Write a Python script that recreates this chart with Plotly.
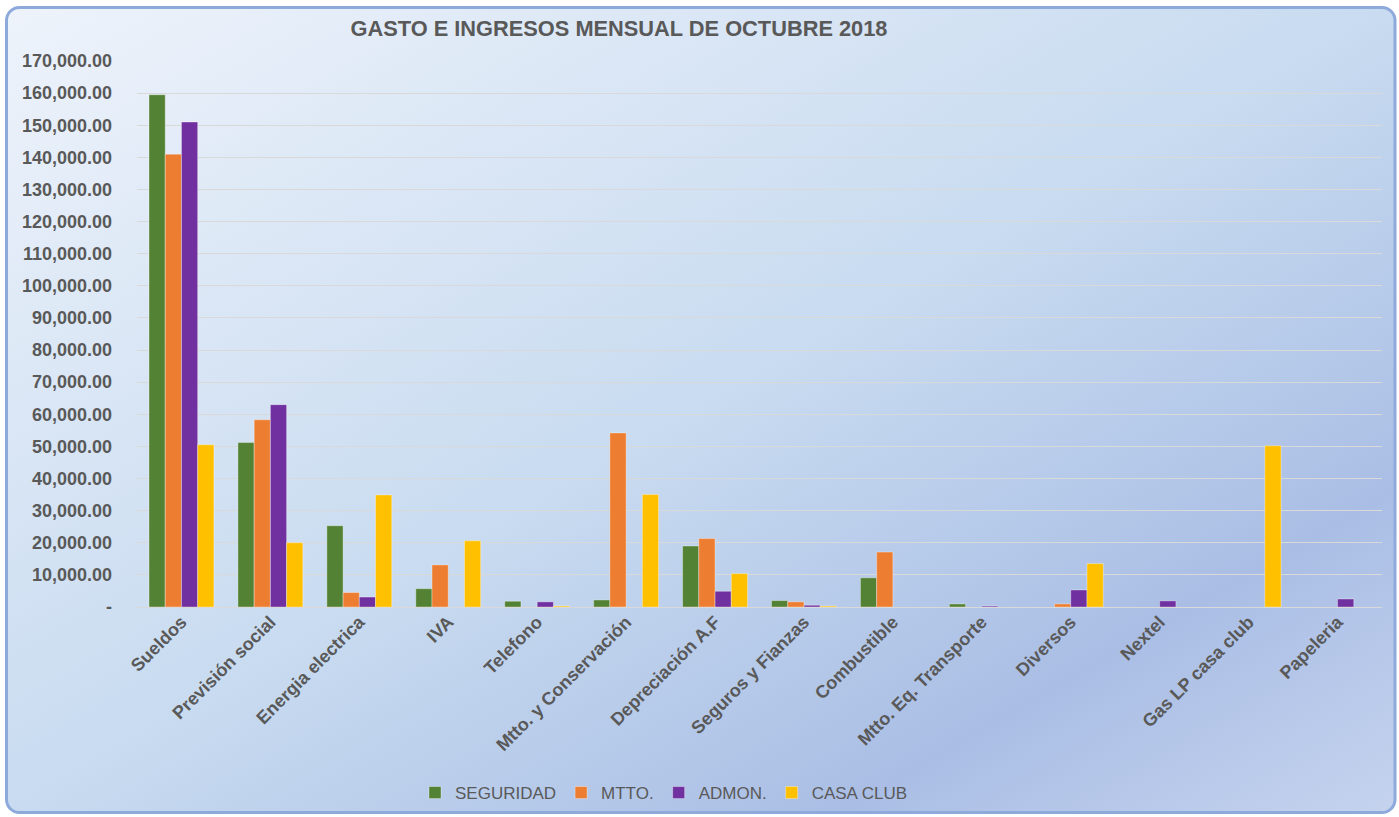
import base64
import plotly.graph_objects as go

categories = ["Sueldos", "Previsión social", "Energia electrica", "IVA", "Telefono",
              "Mtto. y Conservación", "Depreciación A.F", "Seguros y Fianzas", "Combustible",
              "Mtto. Eq. Transporte", "Diversos", "Nextel", "Gas LP casa club", "Papeleria"]

seguridad = [159500, 51200, 25300, 5700, 1800, 2200, 19000, 2000, 9100, 950, None, None, None, None]
mtto = [141000, 58300, 4500, 13100, None, 54200, 21300, 1600, 17100, None, 950, None, None, None]
admon = [151000, 63000, 3100, None, 1600, None, 4900, 550, None, 300, 5300, 1900, None, 2500]
casa_club = [50500, 20000, 34900, 20600, 300, 35000, 10400, 300, None, None, 13500, None, 50200, None]

series_names = ["SEGURIDAD", "MTTO.", "ADMON.", "CASA CLUB"]
series_colors = ["#548235", "#ED7D31", "#7030A0", "#FFC000"]

tick_vals = [0, 10000, 20000, 30000, 40000, 50000, 60000, 70000, 80000, 90000,
             100000, 110000, 120000, 130000, 140000, 150000, 160000, 170000]
tick_text = ["-"] + [f"{v:,.2f}" for v in tick_vals[1:]]

W, H = 1399, 817
ML, MR, MT, MB = 137, 17, 61, 210
PW, PH = W - ML - MR, H - MT - MB

svg = f'''<svg xmlns="http://www.w3.org/2000/svg" width="{W}" height="{H}" viewBox="0 0 {W} {H}" preserveAspectRatio="none">
<defs><linearGradient id="g" x1="0" y1="0" x2="1" y2="1">
<stop offset="0" stop-color="#eef3fb"/>
<stop offset="0.5" stop-color="#c8dbf0"/>
<stop offset="0.8" stop-color="#aabee5"/>
<stop offset="1" stop-color="#c5d3ee"/>
</linearGradient></defs>
<rect x="6.5" y="7.5" width="1388.5" height="805" rx="13" ry="13" fill="url(#g)" stroke="#8eaadb" stroke-width="3"/>
</svg>'''
src = "data:image/svg+xml;base64," + base64.b64encode(svg.encode()).decode()

fig = go.Figure()
for name, vals, col in zip(series_names, [seguridad, mtto, admon, casa_club], series_colors):
    fig.add_trace(go.Bar(x=categories, y=vals, name=name, marker_color=col,
                         marker_line=dict(color="rgba(255,255,255,0.35)", width=1)))

fig.update_layout(
    width=W, height=H,
    margin=dict(l=ML, r=MR, t=MT, b=MB),
    paper_bgcolor="white",
    plot_bgcolor="rgba(0,0,0,0)",
    barmode="group", bargap=0.27, bargroupgap=0,
    font=dict(family="Liberation Sans, Arial, sans-serif", color="#595959"),
    title=dict(text="<b>GASTO E INGRESOS MENSUAL DE OCTUBRE 2018</b>",
               x=619 / W, xanchor="center", y=1 - 28 / H, yanchor="middle",
               font=dict(size=21.8, color="#595959")),
    legend=dict(orientation="h", xref="container", yref="container",
                x=664 / W, xanchor="center", y=1 - 793 / H, yanchor="middle",
                font=dict(size=17, color="#595959"), itemwidth=30,
                bgcolor="rgba(0,0,0,0)"),
    images=[dict(source=src, xref="paper", yref="paper",
                 x=-ML / PW, y=1 + MT / PH, sizex=W / PW, sizey=H / PH,
                 xanchor="left", yanchor="top", sizing="stretch", layer="below")],
    showlegend=True,
)
fig.update_xaxes(tickangle=-45, tickfont=dict(size=18, color="#595959", family="Liberation Sans, Arial, sans-serif", weight="bold"),
                 showgrid=False, showline=False, ticks="")
fig.update_yaxes(range=[0, 170000], tickvals=tick_vals, ticktext=tick_text,
                 tickfont=dict(size=18, color="#595959", weight="bold"),
                 showgrid=True, gridcolor="#d9d9d9", gridwidth=1,
                 zeroline=True, zerolinecolor="#d9d9d9", zerolinewidth=1,
                 ticklabelstandoff=24)

fig.write_html("out.html")
